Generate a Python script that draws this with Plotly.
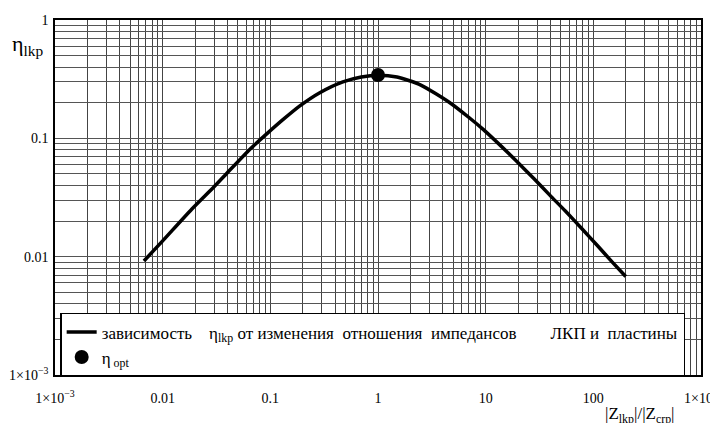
import plotly.graph_objects as go

# Curve values
ratio = [0.0067, 0.01, 0.0186, 0.03, 0.0393, 0.0647, 0.0925, 0.13, 0.188, 0.288,
         0.472, 0.7, 1.0, 1.5, 2.5, 4.65, 7.0, 9.48, 14, 19.4, 28, 39.4, 55,
         77.6, 110, 150, 200]
eta = [0.0092, 0.0136, 0.0252, 0.0390, 0.0505, 0.0810, 0.1090, 0.143, 0.188, 0.243,
       0.300, 0.330, 0.342, 0.330, 0.282, 0.200, 0.150, 0.119, 0.0855, 0.0640,
       0.0457, 0.0331, 0.0243, 0.0174, 0.0123, 0.0090, 0.0068]

opt_x = [1.0]
opt_y = [0.343]

x_decades = [1e-3, 1e-2, 1e-1, 1, 10, 100, 1000]
x_labels = ["1×10<sup>−3</sup>", "0.01", "0.1", "1", "10", "100", "1×10<sup>3</sup>"]
y_decades = [1e-3, 1e-2, 1e-1, 1]
y_labels = ["1×10<sup>−3</sup>", "0.01", "0.1", "1"]

line_name = ("зависимость\u00a0\u00a0\u00a0 η<sub>lkp</sub> от\u00a0изменения\u00a0 отношения\u00a0 импедансов"
             "\u00a0\u00a0\u00a0\u00a0\u00a0\u00a0\u00a0 ЛКП и\u00a0 пластины")
opt_name = "η<sub> opt</sub>"


def build_ticks(decades, labels):
    vals, texts = [], []
    for i, d in enumerate(decades):
        vals.append(d)
        texts.append(labels[i])
        if i < len(decades) - 1:
            for m in range(2, 10):
                vals.append(d * m)
                texts.append("")
    return vals, texts


xv, xt = build_ticks(x_decades, x_labels)
yv, yt = build_ticks(y_decades, y_labels)

font = "Times New Roman"

fig = go.Figure()
fig.add_trace(go.Scatter(x=ratio, y=eta, mode="lines", name=line_name,
                         line=dict(color="black", width=3.5, shape="spline", smoothing=0.6)))
fig.add_trace(go.Scatter(x=opt_x, y=opt_y, mode="markers", name=opt_name,
                         marker=dict(color="black", size=14)))

fig.update_layout(
    width=710, height=415,
    margin=dict(l=47, r=17, t=12, b=48),
    paper_bgcolor="white", plot_bgcolor="white",
    font=dict(family=font, size=14, color="black"),
    showlegend=True,
    legend=dict(x=0.008, y=0.175, xanchor="left", yanchor="top",
                bgcolor="white", bordercolor="black", borderwidth=1.5,
                font=dict(family=font, size=17, color="black"),
                tracegroupgap=0),
)
fig.update_xaxes(type="log", range=[-3, 3], tickvals=xv, ticktext=xt,
                 showgrid=True, gridcolor="#444", gridwidth=1,
                 showline=True, mirror=True, linecolor="black", linewidth=1.5,
                 ticks="", ticklabelstandoff=9, automargin=False, zeroline=False,
                 tickfont=dict(family=font, size=14))
fig.update_yaxes(type="log", range=[-3, 0], tickvals=yv, ticktext=yt,
                 showgrid=True, gridcolor="#555", gridwidth=1,
                 showline=True, mirror=True, linecolor="black", linewidth=1.5,
                 ticks="", ticklabelstandoff=2, automargin=False, zeroline=False,
                 tickfont=dict(family=font, size=14))

fig.add_annotation(text="η<sub>lkp</sub>", xref="paper", yref="paper",
                   x=-0.042, y=0.93, xanchor="center", yanchor="middle", showarrow=False,
                   font=dict(family=font, size=22, color="black"))
fig.add_annotation(text="|Z<sub>lkp</sub>|/|Z<sub>crp</sub>|", xref="paper", yref="paper",
                   x=0.905, y=-0.075, xanchor="center", yanchor="top", showarrow=False,
                   font=dict(family=font, size=17, color="black"))

fig.write_html("out.html")
